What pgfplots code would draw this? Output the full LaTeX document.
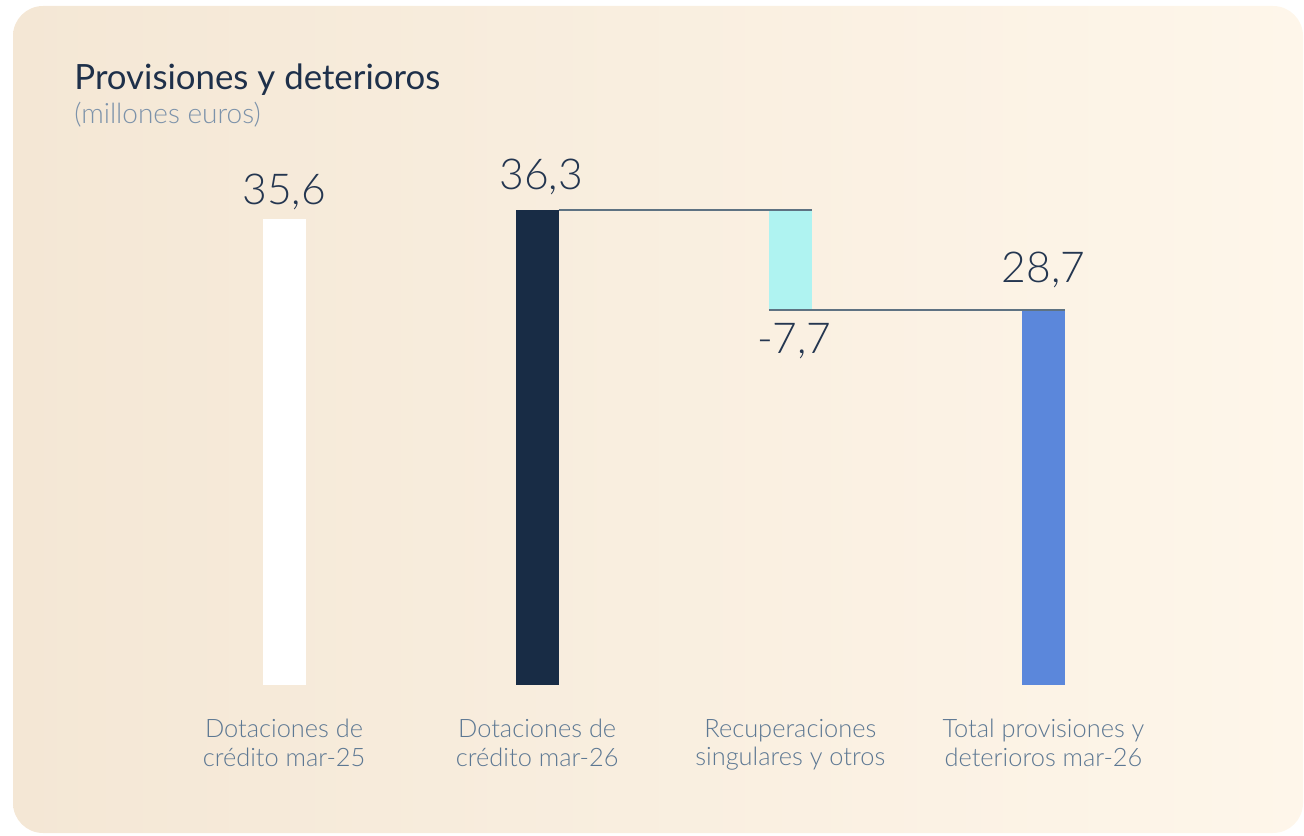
\documentclass[border=0pt]{standalone}
\usepackage{fontspec}
\setmainfont{Lato}
\newfontfamily\light{Lato Light}
\usepackage{pgfplots}
\pgfplotsset{compat=1.18}
\definecolor{navy}{HTML}{182C45}
\definecolor{cyanbar}{HTML}{AFF3F1}
\definecolor{bluebar}{HTML}{5B87DB}
\definecolor{linec}{HTML}{5E7282}
\definecolor{labelc}{HTML}{5D7893}
\definecolor{numc}{HTML}{243650}
\definecolor{titlec}{HTML}{1E304A}
\definecolor{subc}{HTML}{7C92AA}
\definecolor{bgdark}{HTML}{F4E7D5}
\definecolor{bglight}{HTML}{FEF6EA}
\pgfplotsset{
  common/.style={
    at={(78.75pt,75pt)}, anchor=south west,
    width=506.25pt, height=261.8pt, scale only axis,
    xmin=-0.5, xmax=3.5, ymin=0, ymax=40,
    axis line style={draw=none}, major tick length=0pt,
    ytick=\empty, clip=false,
  },
}
\tikzset{numstyle/.style={font=\light\fontsize{21.3}{24}\selectfont, text=numc, anchor=base, inner sep=0pt}}
\begin{document}
\begin{tikzpicture}
\useasboundingbox (0,0) rectangle (652pt,417.5pt);
\shade[rounded corners=15pt, left color=bgdark, right color=bglight] (6.5pt,1pt) rectangle (651.5pt,414.5pt);
\node[anchor=base west, inner sep=0pt, text=titlec, font=\fontsize{17.4}{20}\selectfont] at (37pt,372.5pt) {Provisiones y deterioros};
\node[anchor=base west, inner sep=0pt, text=subc, font=\light\fontsize{14}{16}\selectfont] at (37pt,355.5pt) {(millones euros)};
% floating bar
\begin{axis}[common, xtick=\empty, ybar stacked, bar width=21.5pt]
\addplot[fill=none, draw=none] coordinates {(2,28.6)};
\addplot[fill=cyanbar, draw=none] coordinates {(2,7.7)};
\end{axis}
% other bars
\begin{axis}[common,
  xtick={0,1,2,3},
  xticklabels={{Dotaciones de\\crédito mar-25},{Dotaciones de\\crédito mar-26},{Recuperaciones\\singulares y otros},{Total provisiones y\\deterioros mar-26}},
  xticklabel style={align=center, anchor=north, inner sep=0pt, yshift=-17pt,
    font=\light\fontsize{12.7}{14.2}\selectfont, text=labelc},
]
\addplot[ybar, bar width=21.5pt, bar shift=0pt, fill=white, draw=none,
  point meta=explicit symbolic, nodes near coords,
  every node near coord/.append style={numstyle, yshift=7pt}]
  coordinates {(0,35.6) [35,6]};
\addplot[ybar, bar width=21.5pt, bar shift=0pt, fill=navy, draw=none,
  point meta=explicit symbolic, nodes near coords,
  every node near coord/.append style={numstyle, yshift=10pt, xshift=2pt}]
  coordinates {(1,36.3) [36,3]};
\addplot[ybar, bar width=21.5pt, bar shift=0pt, fill=bluebar, draw=none,
  point meta=explicit symbolic, nodes near coords,
  every node near coord/.append style={numstyle, yshift=13.5pt}]
  coordinates {(3,28.7) [28,7]};
\addplot[sharp plot, no marks, linec, line width=1pt] coordinates {(1.085,36.3) (2.085,36.3)};
\addplot[sharp plot, no marks, linec, line width=1pt] coordinates {(1.915,28.65) (3.085,28.65)};
\addplot[draw=none, no marks, point meta=explicit symbolic, nodes near coords,
  every node near coord/.append style={numstyle, yshift=-21.6pt, xshift=2pt}]
  coordinates {(2,28.6) [-7,7]};
\end{axis}
\end{tikzpicture}
\end{document}
